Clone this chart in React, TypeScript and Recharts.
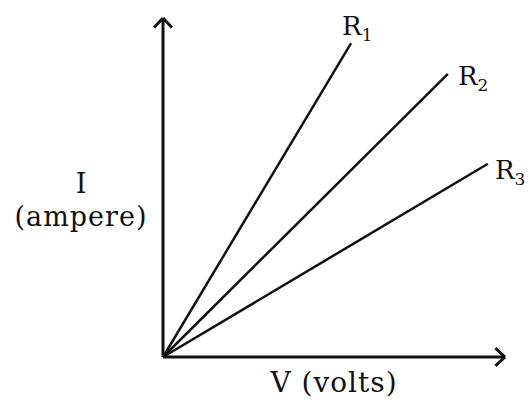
import { LineChart, Line, XAxis, YAxis, ReferenceLine, ReferenceDot } from 'recharts'

// I–V graph for three resistors (arbitrary units)
const VOLTS_R1 = [0, 55]
const AMPS_R1 = [0, 92.6]
const VOLTS_R2 = [0, 83.3]
const AMPS_R2 = [0, 83.5]
const VOLTS_R3 = [0, 95]
const AMPS_R3 = [0, 57]

const SERIES_NAMES = ['1', '2', '3']
const X_LABEL = 'V (volts)'
const Y_LABEL_TOP = 'I'
const Y_LABEL_BOTTOM = '(ampere)'

const INK = '#111'
const FONT = '"DejaVu Serif", "Liberation Serif", serif'

const toRows = (xs: number[], ys: number[]) => xs.map((v, k) => ({ v, i: ys[k] }))

const LABEL_OFFSETS = [
  { dx: -9, dy: -8 },
  { dx: 10, dy: 11 },
  { dx: 7, dy: 15 },
]

function makeEndLabel(n: number) {
  return (props: any) => {
    const { x, y, index } = props
    if (index !== 1) return null
    const { dx, dy } = LABEL_OFFSETS[n]
    return (
      <text x={x + dx} y={y + dy} fill={INK} fontFamily={FONT} fontSize={26}>
        <tspan>R</tspan>
        <tspan fontSize={17} dy={6}>{SERIES_NAMES[n]}</tspan>
      </text>
    )
  }
}

// captions hang off zero-radius reference dots; viewBox.x/y is the dot centre
const XCaption = (props: any) => {
  const vb = props.viewBox
  return (
    <text x={vb.x} y={vb.y + 35} textAnchor="middle"
      fill={INK} fontFamily={FONT} fontSize={28} letterSpacing={1}>
      {X_LABEL}
    </text>
  )
}

const YCaption = (props: any) => {
  const vb = props.viewBox
  const cx = vb.x - 82
  return (
    <g fill={INK} fontFamily={FONT} fontSize={27}>
      <text x={cx} y={vb.y + 5} textAnchor="middle">{Y_LABEL_TOP}</text>
      <text x={cx} y={vb.y + 38} textAnchor="middle" letterSpacing={1}>{Y_LABEL_BOTTOM}</text>
    </g>
  )
}

const lines = [
  toRows(VOLTS_R1, AMPS_R1),
  toRows(VOLTS_R2, AMPS_R2),
  toRows(VOLTS_R3, AMPS_R3),
]

const seg = (x1: number, y1: number, x2: number, y2: number) => [{ x: x1, y: y1 }, { x: x2, y: y2 }]

export default function App() {
  return (
    <div style={{ position: 'absolute', left: 0, top: 0, background: '#fff' }}>
      <LineChart width={531} height={403} margin={{ top: 18, right: 26, bottom: 46, left: 163 }}>
        <XAxis type="number" dataKey="v" domain={[0, 100]} hide />
        <YAxis type="number" dataKey="i" domain={[0, 100]} hide />
        {/* axes + arrowheads */}
        <ReferenceLine segment={seg(0, 0, 100, 0)} stroke={INK} strokeWidth={3} ifOverflow="visible" />
        <ReferenceLine segment={seg(0, 0, 0, 100)} stroke={INK} strokeWidth={3} ifOverflow="visible" />
        <ReferenceLine segment={seg(100, 0, 97.2, 2.6)} stroke={INK} strokeWidth={3} ifOverflow="visible" />
        <ReferenceLine segment={seg(100, 0, 97.2, -2.6)} stroke={INK} strokeWidth={3} ifOverflow="visible" />
        <ReferenceLine segment={seg(0, 100, -2.6, 97.2)} stroke={INK} strokeWidth={3} ifOverflow="visible" />
        <ReferenceLine segment={seg(0, 100, 2.6, 97.2)} stroke={INK} strokeWidth={3} ifOverflow="visible" />
        <ReferenceDot x={50} y={0} r={0} stroke="none" fill="none" ifOverflow="visible" label={<XCaption />} />
        <ReferenceDot x={0} y={50} r={0} stroke="none" fill="none" ifOverflow="visible" label={<YCaption />} />
        {lines.map((rows, n) => (
          <Line key={n} data={rows} dataKey="i" stroke={INK} strokeWidth={2.5}
            dot={false} isAnimationActive={false} label={makeEndLabel(n)} />
        ))}
      </LineChart>
    </div>
  )
}
